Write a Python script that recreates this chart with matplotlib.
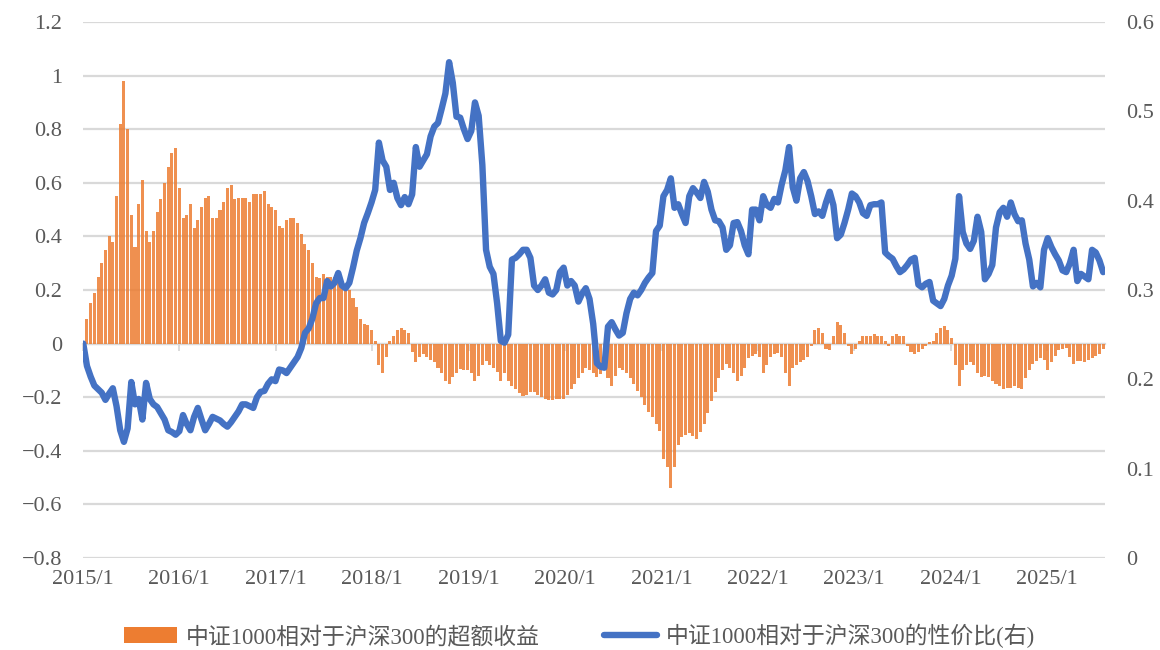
import matplotlib
matplotlib.use("Agg")
import matplotlib.pyplot as plt
from matplotlib.patches import Patch
from matplotlib.lines import Line2D
import pandas as pd

plt.rcParams['font.family'] = ['Liberation Serif', 'Noto Sans CJK SC', 'DejaVu Sans']
plt.rcParams['axes.unicode_minus'] = True

# ---------------- data (bi-weekly samples) ----------------
start_date = '2015-01-02'
freq = '14D'

excess_return = [
    # 2015
    0.01, 0.09, 0.15, 0.19, 0.25, 0.30, 0.35, 0.40, 0.38, 0.55, 0.82, 0.98, 0.80,
    0.48, 0.36, 0.52, 0.61, 0.42, 0.38, 0.42, 0.49, 0.54, 0.60, 0.66, 0.71, 0.73,
    # 2016
    0.58, 0.47, 0.48, 0.52, 0.43, 0.46, 0.51, 0.545, 0.55, 0.47, 0.47, 0.50, 0.53,
    0.58, 0.59, 0.54, 0.545, 0.545, 0.545, 0.53, 0.56, 0.56, 0.56, 0.57, 0.52, 0.51,
    # 2017
    0.50, 0.44, 0.43, 0.46, 0.47, 0.47, 0.45, 0.41, 0.37, 0.35, 0.30, 0.25, 0.245,
    0.26, 0.25, 0.25, 0.25, 0.25, 0.24, 0.22, 0.20, 0.17, 0.135, 0.09, 0.075, 0.07,
    # 2018
    0.05, 0.01, -0.08, -0.11, -0.05, 0.01, 0.03, 0.05, 0.06, 0.05, 0.04, -0.03, -0.07,
    -0.05, -0.04, -0.05, -0.06, -0.07, -0.09, -0.11, -0.14, -0.15, -0.125, -0.11, -0.095, -0.10,
    # 2019
    -0.10, -0.11, -0.14, -0.12, -0.08, -0.065, -0.08, -0.09, -0.105, -0.14, -0.11, -0.14, -0.16,
    -0.17, -0.185, -0.195, -0.19, -0.18, -0.18, -0.19, -0.20, -0.205, -0.21, -0.21, -0.205, -0.205,
    # 2020
    -0.205, -0.19, -0.17, -0.15, -0.13, -0.11, -0.09, -0.10, -0.11, -0.125, -0.115, -0.10, -0.13,
    -0.16, -0.12, -0.09, -0.10, -0.11, -0.13, -0.15, -0.175, -0.20, -0.23, -0.255, -0.275, -0.30,
    # 2021
    -0.325, -0.43, -0.46, -0.54, -0.46, -0.38, -0.35, -0.34, -0.335, -0.345, -0.355, -0.33, -0.30,
    -0.26, -0.215, -0.18, -0.13, -0.10, -0.075, -0.09, -0.11, -0.14, -0.12, -0.09, -0.055, -0.045,
    # 2022
    -0.04, -0.05, -0.11, -0.08, -0.05, -0.04, -0.035, -0.05, -0.11, -0.16, -0.09, -0.08, -0.07,
    -0.06, -0.05, -0.01, 0.05, 0.06, 0.04, -0.02, -0.025, 0.03, 0.08, 0.07, 0.04, -0.01,
    # 2023
    -0.04, -0.02, 0.01, 0.03, 0.03, 0.03, 0.035, 0.03, 0.03, 0.01, -0.01, 0.03, 0.035,
    0.03, 0.03, -0.01, -0.03, -0.04, -0.03, -0.02, -0.01, 0.005, 0.01, 0.04, 0.06, 0.067,
    # 2024
    0.05, 0.02, -0.08, -0.16, -0.10, -0.08, -0.07, -0.08, -0.11, -0.125, -0.12, -0.125, -0.14,
    -0.15, -0.16, -0.17, -0.165, -0.165, -0.16, -0.165, -0.17, -0.13, -0.10, -0.075, -0.065, -0.055,
    # 2025
    -0.06, -0.10, -0.07, -0.045, -0.025, -0.02, -0.015, -0.05, -0.075, -0.065, -0.065, -0.07,
    -0.06, -0.055, -0.045, -0.04, -0.02,
]

value_ratio = [
    # 2015
    0.240, 0.215, 0.203, 0.193, 0.189, 0.185, 0.177, 0.184, 0.190, 0.170, 0.143, 0.130, 0.145,
    0.197, 0.172, 0.178, 0.155, 0.196, 0.178, 0.172, 0.169, 0.162, 0.155, 0.143, 0.141, 0.138,
    # 2016
    0.142, 0.160, 0.150, 0.143, 0.158, 0.168, 0.155, 0.143, 0.150, 0.158, 0.156, 0.154, 0.150,
    0.147, 0.152, 0.158, 0.164, 0.172, 0.172, 0.170, 0.168, 0.180, 0.186, 0.187, 0.195, 0.200,
    # 2017
    0.198, 0.211, 0.210, 0.207, 0.213, 0.219, 0.225, 0.235, 0.252, 0.257, 0.268, 0.285, 0.291,
    0.291, 0.310, 0.304, 0.308, 0.319, 0.305, 0.302, 0.308, 0.325, 0.344, 0.358, 0.375, 0.386,
    # 2018
    0.398, 0.412, 0.465, 0.445, 0.438, 0.412, 0.420, 0.403, 0.395, 0.404, 0.396, 0.407, 0.460,
    0.438, 0.445, 0.452, 0.472, 0.483, 0.487, 0.503, 0.520, 0.555, 0.532, 0.494, 0.493, 0.480,
    # 2019
    0.469, 0.478, 0.510, 0.495, 0.440, 0.345, 0.326, 0.318, 0.285, 0.243, 0.241, 0.250, 0.334,
    0.336, 0.340, 0.345, 0.345, 0.336, 0.305, 0.300, 0.305, 0.312, 0.297, 0.295, 0.300, 0.320,
    # 2020
    0.325, 0.305, 0.310, 0.305, 0.287, 0.296, 0.302, 0.290, 0.262, 0.218, 0.214, 0.213, 0.259,
    0.264, 0.256, 0.249, 0.252, 0.274, 0.290, 0.297, 0.294, 0.300, 0.308, 0.314, 0.319, 0.366,
    # 2021
    0.372, 0.405, 0.412, 0.425, 0.392, 0.396, 0.385, 0.375, 0.405, 0.414, 0.409, 0.403, 0.421,
    0.410, 0.390, 0.378, 0.377, 0.370, 0.345, 0.350, 0.375, 0.376, 0.366, 0.350, 0.340, 0.390,
    # 2022
    0.390, 0.378, 0.405, 0.395, 0.392, 0.402, 0.398, 0.418, 0.434, 0.460, 0.415, 0.400, 0.425,
    0.432, 0.422, 0.405, 0.385, 0.388, 0.383, 0.398, 0.410, 0.395, 0.358, 0.362, 0.375, 0.390,
    # 2023
    0.408, 0.405, 0.398, 0.386, 0.383, 0.395, 0.396, 0.396, 0.398, 0.342, 0.338, 0.335, 0.327,
    0.320, 0.323, 0.328, 0.334, 0.336, 0.306, 0.303, 0.307, 0.309, 0.288, 0.285, 0.282, 0.290,
    # 2024
    0.305, 0.316, 0.335, 0.405, 0.365, 0.352, 0.346, 0.355, 0.382, 0.365, 0.312, 0.318, 0.328,
    0.370, 0.387, 0.392, 0.382, 0.398, 0.385, 0.377, 0.378, 0.352, 0.334, 0.304, 0.308, 0.303,
    # 2025
    0.345, 0.358, 0.348, 0.340, 0.333, 0.322, 0.320, 0.330, 0.345, 0.310, 0.318, 0.315,
    0.312, 0.345, 0.342, 0.333, 0.320,
]

left_ticks = [1.2, 1.0, 0.8, 0.6, 0.4, 0.2, 0.0, -0.2, -0.4, -0.6, -0.8]
left_labels = ['1.2', '1', '0.8', '0.6', '0.4', '0.2', '0', '\u22120.2', '\u22120.4', '\u22120.6', '\u22120.8']
right_ticks = [0, 0.1, 0.2, 0.3, 0.4, 0.5, 0.6]
right_labels = ['0', '0.1', '0.2', '0.3', '0.4', '0.5', '0.6']
year_ticks = list(range(2015, 2026))
legend_bar = '中证1000相对于沪深300的超额收益'
legend_line = '中证1000相对于沪深300的性价比(右)'

# ---------------- plot ----------------
dates = pd.date_range(start_date, periods=len(excess_return), freq=freq)

fig = plt.figure(figsize=(11.6, 6.5), dpi=100)
ax = fig.add_axes([83/1160, 1-558/650, (1105-83)/1160, (558-22)/650])
ax2 = ax.twinx()

grid_c = '#D9D9D9'
text_c = '#595959'
orange = '#ED7D31'
blue = '#4472C4'

ax.bar(dates, excess_return, width=11.5, color=orange, alpha=0.85, linewidth=0, zorder=2)
ax2.plot(dates, value_ratio, color=blue, linewidth=4.6, solid_joinstyle='round',
         solid_capstyle='round', zorder=3)

ax.set_ylim(-0.8, 1.2)
ax2.set_ylim(0, 0.6)
ax.set_xlim(pd.Timestamp('2015-01-01'), pd.Timestamp('2025-08-08'))

ax.set_yticks(left_ticks)
ax.set_yticklabels(left_labels)
ax2.set_yticks(right_ticks)
ax2.set_yticklabels(right_labels)
for t in left_ticks:
    ax.axhline(t, color=grid_c, linewidth=1.6, zorder=1)

ax.set_xticks([pd.Timestamp(f'{y}-01-01') for y in year_ticks])
ax.set_xticklabels([f'{y}/1' for y in year_ticks])

ax.tick_params(axis='y', length=0, pad=15, labelsize=16, labelcolor=text_c)
ax2.tick_params(axis='y', length=0, pad=15, labelsize=16, labelcolor=text_c)
ax.tick_params(axis='x', length=0, pad=9, labelsize=16, labelcolor=text_c)

for a in (ax, ax2):
    for s in a.spines.values():
        s.set_visible(False)

# zero axis with small year tick marks
sec = ax.secondary_xaxis(0.4)
sec.set_xticks([pd.Timestamp(f'{y}-01-01') for y in year_ticks])
sec.tick_params(axis='x', direction='out', length=5, width=1.3, color=grid_c, labelbottom=False)
sec.spines['bottom'].set_color(grid_c)
sec.spines['bottom'].set_linewidth(1.6)
sec.set_xticklabels([])

handles = [Patch(facecolor=orange, edgecolor='none'),
           Line2D([0], [0], color=blue, linewidth=4.6, solid_capstyle='round')]
leg = fig.legend(handles, [legend_bar, legend_line], loc='center', ncol=2,
                 bbox_to_anchor=(0.5, 1-636/650), frameon=False, fontsize=16.5,
                 handlelength=2.3, handleheight=0.7, columnspacing=2.8, handletextpad=0.4)
for t in leg.get_texts():
    t.set_color(text_c)

fig.savefig('out.png', dpi=100)
